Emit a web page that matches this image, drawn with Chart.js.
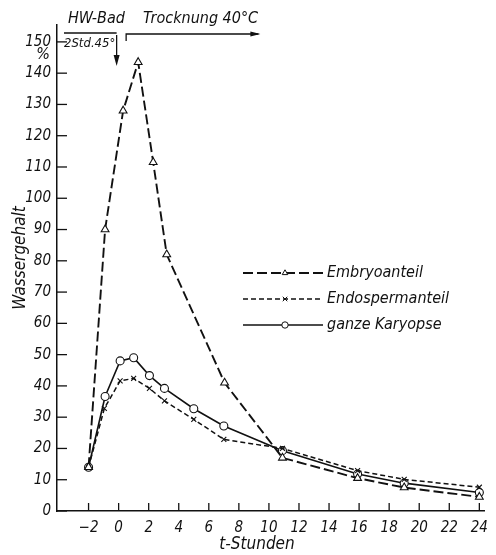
<!DOCTYPE html>
<html><head><meta charset="utf-8">
<script src="https://cdn.jsdelivr.net/npm/chart.js@4/dist/chart.umd.min.js"></script>
<style>html,body{margin:0;padding:0;background:#fff}#wrap{width:496px;height:555px;position:relative}</style>
</head><body><div id="wrap"><canvas id="c" width="496" height="555"></canvas></div>
<script>
// ---- data ----
const seriesNames = ['Embryoanteil', 'Endospermanteil', 'ganze Karyopse'];
const embryoT = [-2, -0.9, 0.3, 1.3, 2.3, 3.2, 7.05, 10.9, 15.9, 19.0, 24.0];
const embryoW = [14, 90, 128, 143.5, 111.5, 82, 41, 17, 10.5, 7.5, 4.5];
const endoT   = [-2, -0.95, 0.1, 1.0, 2.05, 3.05, 5.0, 7.0, 10.9, 15.9, 19.0, 24.0];
const endoW   = [14, 32.8, 41.6, 42.4, 39.2, 35.2, 29.3, 22.9, 20, 12.9, 10.1, 7.6];
const ganzT   = [-2, -0.9, 0.1, 1.0, 2.05, 3.05, 5.0, 7.0, 10.9, 15.9, 19.0, 24.0];
const ganzW   = [14, 36.6, 48, 49, 43.3, 39.2, 32.7, 27.2, 19.3, 11.8, 8.9, 5.9];
const xTickValues = [-2, 0, 2, 4, 6, 8, 10, 12, 14, 16, 18, 20, 22, 24];
const yTickValues = [0, 10, 20, 30, 40, 50, 60, 70, 80, 90, 100, 110, 120, 130, 140, 150];
const xTitle = 't-Stunden';
const yTitle = 'Wassergehalt';
const yUnit = '%';
const noteBath = 'HW-Bad';
const noteBathDetail = '2Std.45°';
const noteDry = 'Trocknung 40°C';
const bathEndT = 0;      // arrow position (t)
const dryStartT = 0.5;   // bracket start (t)
const dryEndT = 9.3;     // bracket arrow end (t)

// ---- fonts ----
const NARROW = '"Liberation Sans Narrow", "DejaVu Sans Condensed", "Arial Narrow", sans-serif';
const COND = '"DejaVu Sans Condensed", "Liberation Sans Narrow", "DejaVu Sans", sans-serif';
const INK = '#111';

const pts = (t, w) => t.map((x, i) => ({x: x, y: w[i]}));

const datasets = [
  {label: seriesNames[0], data: pts(embryoT, embryoW), borderColor: INK, borderWidth: 1.9,
   borderDash: [10, 4], pointStyle: 'triangle', pointRadius: 4.5, pointBorderWidth: 1.1,
   pointBackgroundColor: '#fff', pointBorderColor: INK, tension: 0},
  {label: seriesNames[1], data: pts(endoT, endoW), borderColor: INK, borderWidth: 1.5,
   borderDash: [5, 3], pointStyle: 'crossRot', pointRadius: 3.5, pointBorderWidth: 1.1,
   pointBackgroundColor: '#fff', pointBorderColor: INK, tension: 0},
  {label: seriesNames[2], data: pts(ganzT, ganzW), borderColor: INK, borderWidth: 1.6,
   borderDash: [], pointStyle: 'circle', pointRadius: 4, pointBorderWidth: 1.1,
   pointBackgroundColor: '#fff', pointBorderColor: INK, tension: 0}
];

const deco = {
  id: 'deco',
  afterDraw(chart) {
    const ctx = chart.ctx, xs = chart.scales.x, ys = chart.scales.y, a = chart.chartArea;
    ctx.save();
    ctx.strokeStyle = INK; ctx.fillStyle = INK; ctx.lineWidth = 1.3; ctx.setLineDash([]);
    // inward tick marks
    yTickValues.forEach(v => {
      const y = ys.getPixelForValue(v);
      ctx.beginPath(); ctx.moveTo(a.left, y); ctx.lineTo(a.left + 10, y); ctx.stroke();
    });
    xTickValues.forEach(v => {
      const x = xs.getPixelForValue(v);
      ctx.beginPath(); ctx.moveTo(x, a.bottom); ctx.lineTo(x, a.bottom - 8); ctx.stroke();
    });
    // unit
    ctx.font = 'italic 16px ' + NARROW;
    ctx.textAlign = 'center'; ctx.textBaseline = 'middle';
    ctx.fillText(yUnit, 43, 55);
    // y title
    ctx.save();
    ctx.translate(21, 258); ctx.rotate(-Math.PI / 2);
    ctx.font = 'italic 17px ' + COND;
    ctx.fillText(yTitle, 0, 0);
    ctx.restore();
    // x title
    ctx.font = 'italic 17px ' + COND;
    ctx.fillText(xTitle, 257, 545);
    // top notes
    const xb = xs.getPixelForValue(bathEndT);
    ctx.font = 'italic 16px ' + COND;
    ctx.textAlign = 'left';
    ctx.fillText(noteBath, 68, 19);
    ctx.font = 'italic 13px ' + COND;
    ctx.fillText(noteBathDetail, 64, 44);
    ctx.beginPath(); ctx.moveTo(64, 33); ctx.lineTo(xb - 2, 33); ctx.stroke();
    // down arrow
    ctx.beginPath(); ctx.moveTo(xb - 2, 35); ctx.lineTo(xb - 2, 58); ctx.stroke();
    ctx.beginPath(); ctx.moveTo(xb - 5, 55); ctx.lineTo(xb + 1, 55); ctx.lineTo(xb - 2, 66); ctx.closePath(); ctx.fill();
    // drying bracket
    const xd0 = xs.getPixelForValue(dryStartT), xd1 = xs.getPixelForValue(dryEndT);
    ctx.font = 'italic 16px ' + COND;
    ctx.fillText(noteDry, 143, 19);
    ctx.beginPath(); ctx.moveTo(xd0, 41); ctx.lineTo(xd0, 34); ctx.lineTo(xd1, 34); ctx.stroke();
    ctx.beginPath(); ctx.moveTo(xd1 + 2, 34); ctx.lineTo(xd1 - 8, 31.5); ctx.lineTo(xd1 - 8, 36.5); ctx.closePath(); ctx.fill();
    // legend
    chart.data.datasets.forEach((ds, i) => {
      const y = 273 + i * 26;
      ctx.save();
      ctx.lineWidth = ds.borderWidth; ctx.setLineDash(ds.borderDash);
      ctx.beginPath(); ctx.moveTo(243, y); ctx.lineTo(323, y); ctx.stroke();
      ctx.restore();
      ctx.save();
      ctx.fillStyle = '#fff'; ctx.strokeStyle = INK; ctx.lineWidth = 1;
      Chart.helpers.drawPoint(ctx, {pointStyle: ds.pointStyle, radius: 3.2, rotation: 0, borderWidth: 1}, 285, y);
      ctx.restore();
      ctx.font = 'italic 16px ' + COND;
      ctx.textAlign = 'left'; ctx.textBaseline = 'middle'; ctx.fillStyle = INK;
      ctx.fillText(ds.label, 327, y);
    });
    ctx.restore();
  }
};

new Chart(document.getElementById('c'), {
  type: 'line',
  data: {datasets: datasets},
  options: {
    responsive: false, animation: false, devicePixelRatio: 1,
    layout: {padding: {top: 25, right: 6, left: 0, bottom: 0}},
    plugins: {legend: {display: false}, tooltip: {enabled: false}},
    scales: {
      x: {
        type: 'linear', min: -4.1, max: 24.33,
        grid: {display: false, drawTicks: false},
        border: {display: true, color: INK, width: 1.5},
        afterFit(s) { s.height = 44; },
        afterBuildTicks(s) { s.ticks = xTickValues.map(v => ({value: v})); },
        ticks: {
          autoSkip: false, maxRotation: 0, padding: 8, color: INK,
          font: {family: NARROW, size: 15, style: 'italic'},
          callback: v => (v < 0 ? '\u2212' + Math.abs(v) : String(v))
        }
      },
      y: {
        type: 'linear', min: 0, max: 155.4,
        grid: {display: false, drawTicks: false},
        border: {display: true, color: INK, width: 1.5},
        afterFit(s) { s.width = 57; },
        afterBuildTicks(s) { s.ticks = yTickValues.map(v => ({value: v})); },
        ticks: {
          autoSkip: false, padding: 6, color: INK,
          font: {family: NARROW, size: 15, style: 'italic'}
        }
      }
    }
  },
  plugins: [deco]
});
</script></body></html>
